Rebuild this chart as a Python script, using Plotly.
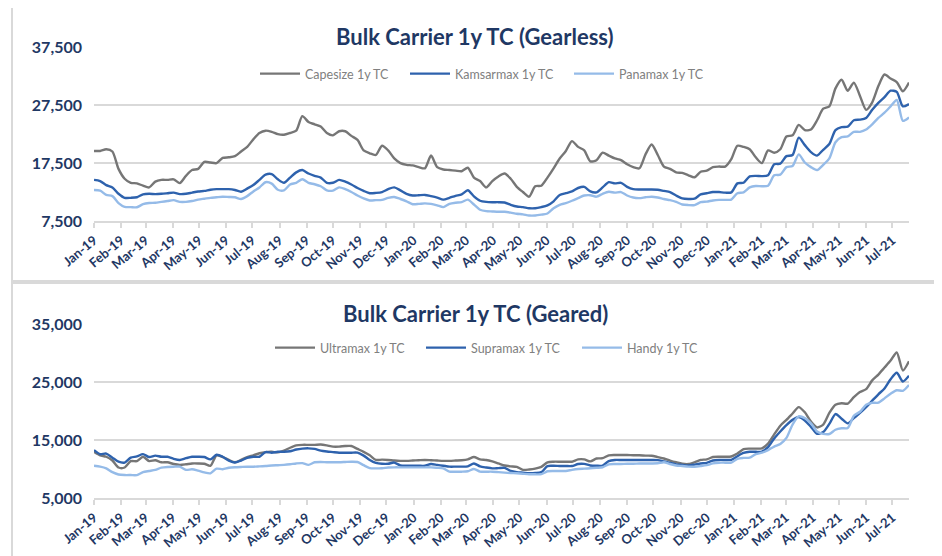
import pandas as pd
import plotly.graph_objects as go

# Weekly observations, Jan-2019 .. Jul-2021
dates = pd.date_range("2019-01-01", periods=134, freq="7D")

capesize = [19600, 19600, 19900, 19500, 16500, 14800, 14100, 14000, 13600, 13300,
            14300, 14600, 14600, 14700, 14050, 15300, 16300, 16500, 17700, 17600,
            17500, 18400, 18500, 18700, 19500, 20300, 21600, 22700, 23100, 22900,
            22500, 22400, 22700, 23100, 25600, 24600, 24200, 23800, 22700, 22300,
            23000, 23000, 22200, 21500, 19700, 19200, 18900, 20500, 19700, 18300,
            17500, 17200, 17100, 16800, 16600, 18800, 16800, 16400, 16300, 16200,
            16100, 16700, 15000, 14400, 13300, 14400, 15200, 15700, 14800, 13400,
            12500, 11700, 13500, 13600, 15000, 16600, 18300, 19600, 21300, 20300,
            19700, 17800, 18000, 19300, 18800, 18300, 18000, 17300, 16800, 16600,
            19000, 20700, 18900, 16900, 16500, 15900, 15800, 15400, 15050, 16000,
            16200, 16800, 16900, 16900, 18200, 20500, 20300, 19900, 18500, 17500,
            19700, 19300, 19900, 22100, 22300, 24100, 23200, 23300, 24900, 26900,
            27300, 30400, 31900, 30000, 31400, 29100, 26700, 28000, 30800, 32800,
            32100, 31500, 29900, 31400]

kamsarmax = [14600, 14400, 13700, 13300, 12200, 11500, 11500, 11600, 12100, 12200,
             12150, 12200, 12300, 12400, 12150, 12200, 12400, 12600, 12700, 12900,
             13000, 13000, 13000, 12850, 12550, 13100, 13700, 14600, 15500, 15600,
             14700, 14100, 15000, 15900, 16300, 15700, 15300, 15000, 14100, 14100,
             14600, 14300, 13800, 13200, 12700, 12300, 12350, 12500, 13000, 13300,
             12800, 12200, 11900, 11950, 12000, 11800, 11550, 11200, 11500, 11850,
             12100, 12800, 11750, 11000, 10800, 10750, 10750, 10700, 10300, 10000,
             9900, 9700, 9700, 9900, 10200, 10900, 12000, 12300, 12600, 13200,
             13400, 12600, 12450, 13300, 14200, 14000, 14100, 13400, 13000, 12950,
             12950, 12950, 12900, 12700, 12500, 11900, 11400, 11300, 11350, 12100,
             12300, 12500, 12500, 12400, 12450, 14000, 14100, 15200, 15300, 15250,
             15400, 17300, 17400, 18700, 18900, 21900, 20600, 19400, 18800, 19800,
             20800, 23200, 23700, 23800, 24900, 25000, 25300, 26700, 27900, 28900,
             30000, 29800, 27300, 27700]

panamax = [12850, 12750, 12000, 11800, 10600, 9950, 9900, 9870, 10400, 10600,
           10650, 10800, 10950, 11100, 10800, 10800, 10950, 11200, 11350, 11500,
           11600, 11700, 11650, 11600, 11300, 11800, 12600, 13300, 14200, 13950,
           12900, 12800, 13800, 14100, 14700, 14100, 13850, 13500, 12800, 12750,
           13300, 13000, 12500, 11900, 11400, 11050, 11100, 11150, 11500, 11650,
           11300, 10900, 10400, 10450, 10550, 10450, 10200, 9900, 10450, 10650,
           10750, 11200, 10350, 9450, 9200, 9150, 9100, 9100, 8950, 8750,
           8650, 8450, 8450, 8600, 8800, 9700, 10300, 10600, 11000, 11450,
           11900, 11950, 11700, 12200, 12550, 12400, 12500, 11900, 11550, 11450,
           11600, 11700, 11550, 11300, 11100, 10800, 10350, 10250, 10250, 10750,
           10850, 11050, 11150, 11150, 11200, 12300, 12450, 13300, 13550, 13500,
           13600, 15400, 15500, 16800, 17000, 19000, 17600, 16800, 16300, 17200,
           18300, 21100, 22000, 22100, 22900, 22900, 23300, 24200, 25300, 26200,
           27300, 28400, 24800, 25400]

ultramax = [13000, 12400, 12150, 11500, 10300, 10300, 11400, 11400, 12150, 11400,
            11550, 11200, 11200, 10900, 10750, 10850, 11000, 11000, 10950, 10600,
            12400, 12100, 11600, 11200, 11600, 12100, 12400, 12750, 12950, 13000,
            12900, 13200, 13700, 14100, 14200, 14200, 14200, 14250, 14100, 13900,
            13900, 14000, 14000, 13500, 13000, 12400, 11600, 11650, 11600, 11500,
            11450, 11450, 11500, 11550, 11600, 11550, 11500, 11450, 11450, 11500,
            11550, 11700, 12100, 11700, 11600, 11350, 11000, 10650, 10500, 10400,
            9900, 9950, 10100, 10400, 11200, 11300, 11300, 11300, 11300, 11700,
            11700, 11350, 11850, 11900, 12400, 12450, 12450, 12450, 12400, 12400,
            12350, 12330, 12100, 11850, 11500, 11200, 10950, 10900, 11200, 11600,
            11700, 12100, 12150, 12150, 12200, 12700, 13450, 13550, 13550, 13600,
            14400, 16000, 17500, 18500, 19600, 20700, 19800, 18200, 17200, 17700,
            19700, 21100, 21350, 21300, 22400, 23300, 23800, 25300, 26300, 27500,
            28700, 30100, 27000, 28600]

supramax = [13300, 12600, 12700, 12000, 11300, 11150, 12000, 12200, 12600, 12100,
            12350, 12150, 12150, 11800, 11600, 11900, 12150, 12150, 12100, 11700,
            12500, 12150, 11500, 11150, 11500, 11950, 12150, 12150, 12950, 12850,
            13000, 13000, 13100, 13400, 13550, 13600, 13500, 13200, 13050, 12950,
            12850, 12850, 12850, 12850, 12350, 11600, 11100, 10950, 10950, 11150,
            10650, 10600, 10600, 10600, 10600, 10900, 10750, 10600, 10450, 10450,
            10450, 10500, 11000, 10500, 10300, 10150, 10200, 10250, 9700, 9500,
            9420, 9320, 9350, 9500, 10550, 10600, 10560, 10560, 10560, 10900,
            10920, 10650, 10600, 10620, 11400, 11600, 11600, 11600, 11600, 11600,
            11600, 11600, 11580, 11350, 11100, 10850, 10750, 10650, 10800, 11000,
            11100, 11500, 11600, 11600, 11620, 12250, 12800, 13000, 13000, 13050,
            13800, 15300, 16500, 17600, 18500, 19000, 18400, 17300, 16100, 16400,
            17800, 19500, 18700, 17900, 18800, 19700, 20700, 21800, 22900, 23900,
            25500, 26600, 25100, 26100]

handy = [10600, 10450, 10150, 9500, 9100, 9000, 9000, 9000, 9500, 9700,
         9900, 10270, 10400, 10440, 10440, 9900, 9990, 9750, 9450, 9300,
         10100, 10000, 10250, 10350, 10400, 10440, 10440, 10500, 10560, 10650,
         10700, 10750, 10850, 11000, 11050, 10750, 11200, 11250, 11200, 11200,
         11200, 11250, 11300, 11250, 10700, 10200, 10150, 10160, 10300, 10330,
         10330, 10330, 10330, 10330, 10330, 10330, 10250, 10150, 9600, 9580,
         9580, 9650, 10050, 9600, 9580, 9580, 9500, 9420, 9350, 9300,
         9220, 9150, 9130, 9150, 9650, 9700, 9700, 9700, 9900, 10050,
         10100, 10160, 10250, 10350, 10850, 10900, 10900, 10950, 10950, 11000,
         11000, 11000, 11020, 11200, 10900, 10650, 10560, 10450, 10440, 10550,
         10700, 11000, 11130, 11130, 11130, 11800, 11950, 12000, 12600, 12850,
         13300, 13900, 14350, 15400, 17700, 19100, 18800, 17900, 16500, 16100,
         16070, 16800, 17050, 17100, 19200, 19900, 21100, 21450, 21450, 22200,
         23000, 23600, 23500, 24500]

month_ticks = pd.date_range("2019-01-01", "2021-07-01", freq="MS")
month_labels = [d.strftime("%b-%y") for d in month_ticks]

title_top = "Bulk Carrier 1y TC (Gearless)"
title_bottom = "Bulk Carrier 1y TC (Geared)"

GRAY = "#767676"
BLUE = "#2e62ad"
LIGHT = "#95bbe8"
NAVY = "#1f3864"
GRID = "#d9d9d9"

# The page body has an 8px default margin; size the figure so it fills the window.
OFF = 8
W, H = 942 - OFF, 556 - OFF


def xp(px):
    return (px - OFF) / W


def yp(py):
    return 1 - (py - OFF) / H


fig = go.Figure()

# (series, name, colour, axes suffix, legend id, legend line start px, legend y px)
series = [
    (capesize, "Capesize 1y TC", GRAY, "", "legend", 260, 74),
    (kamsarmax, "Kamsarmax 1y TC", BLUE, "", "legend2", 410, 74),
    (panamax, "Panamax 1y TC", LIGHT, "", "legend3", 574, 74),
    (ultramax, "Ultramax 1y TC", GRAY, "2", "legend4", 275, 348),
    (supramax, "Supramax 1y TC", BLUE, "2", "legend5", 426, 348),
    (handy, "Handy 1y TC", LIGHT, "2", "legend6", 582, 348),
]

legend_common = dict(
    orientation="h", bgcolor="rgba(0,0,0,0)", itemwidth=40,
    font=dict(family="Lato", size=12.5, color="#808080"),
    xanchor="left", yanchor="middle", itemclick=False, itemdoubleclick=False,
)
legends = {}
for vals, name, color, ax, leg, lx, ly in series:
    fig.add_trace(go.Scatter(
        x=dates, y=vals, name=name, mode="lines",
        line=dict(color=color, width=2.4, shape="spline", smoothing=0.7),
        xaxis="x" + ax, yaxis="y" + ax, legend=leg, hoverinfo="x+y+name"))
    legends[leg] = dict(**legend_common, x=xp(lx - 5), y=yp(ly))

xaxis_common = dict(
    type="date", range=[dates[0], dates[-1]], automargin=False,
    tickmode="array", tickvals=month_ticks, ticktext=month_labels,
    tickangle=-40, ticks="outside", ticklen=5, tickcolor=GRID, tickwidth=1.5,
    showline=True, linecolor=GRID, linewidth=1.5, showgrid=False,
    tickfont=dict(family="Lato", size=13, color=NAVY, weight="bold"),
    domain=[xp(94), xp(909)], zeroline=False,
)
yaxis_common = dict(
    showgrid=True, gridcolor=GRID, gridwidth=1.5, zeroline=False, automargin=False,
    tickformat=",", dtick=10000, ticks="", ticklabelstandoff=11,
    tickfont=dict(family="Lato", size=16, color=NAVY, weight="bold"),
)

title_font = dict(family="Lato", size=22, color=NAVY, weight="bold")

fig.update_layout(
    width=W, height=H, margin=dict(l=0, r=0, t=0, b=0, autoexpand=False),
    paper_bgcolor="white", plot_bgcolor="white",
    showlegend=True,
    xaxis=dict(**xaxis_common, anchor="y"),
    yaxis=dict(**yaxis_common, range=[7500, 37500], tick0=7500,
               domain=[yp(221), yp(47.3)], anchor="x"),
    xaxis2=dict(**xaxis_common, anchor="y2"),
    yaxis2=dict(**yaxis_common, range=[5000, 35000], tick0=5000,
                domain=[yp(498.3), yp(324)], anchor="x2"),
    annotations=[
        dict(text=title_top, x=xp(475), y=yp(36), xref="paper", yref="paper",
             xanchor="center", yanchor="middle", showarrow=False, font=title_font),
        dict(text=title_bottom, x=xp(475), y=yp(313), xref="paper", yref="paper",
             xanchor="center", yanchor="middle", showarrow=False, font=title_font),
    ],
    shapes=[
        dict(type="rect", xref="paper", yref="paper", x0=xp(12), x1=xp(937),
             y0=yp(281), y1=yp(5), line=dict(color=GRID, width=2), layer="below"),
        dict(type="rect", xref="paper", yref="paper", x0=xp(12), x1=xp(937),
             y0=-0.05, y1=yp(283), line=dict(color=GRID, width=2), layer="below"),
    ],
    **legends,
)

fig.write_html("out.html")
